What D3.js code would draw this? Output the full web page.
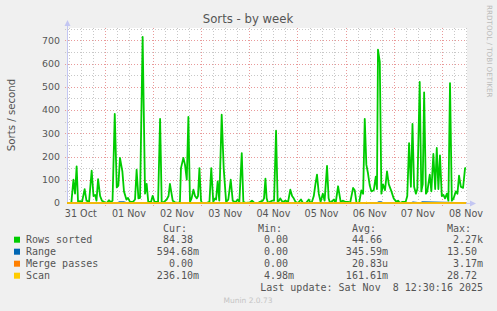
<!DOCTYPE html>
<html>
<head>
<meta charset="utf-8">
<script src="https://d3js.org/d3.v7.min.js"></script>
<style>
  body { margin: 0; background: #f0f0f0; }
  svg text { fill: #555; font-family: "DejaVu Sans", sans-serif; }
  svg text.mono { font-family: "DejaVu Sans Mono", monospace; font-size: 10px; white-space: pre; }
</style>
</head>
<body>
<svg width="497" height="311"></svg>
<script>
// hours since the left edge of the graph, and Rows sorted values
const hours = [0,0.5,2.0,2.2,3.2,4.0,4.8,5.5,6.5,7.5,8.8,9.7,11.0,12.3,13.2,14.0,14.7,15.5,16.5,17.4,18.4,19.9,20.9,21.9,22.7,23.8,24.8,25.6,26.4,27.6,28.4,29.6,30.4,31.4,32.9,33.9,34.7,35.6,36.4,37.7,38.9,39.7,40.5,41.9,42.7,43.6,45.4,46.4,47.2,48.4,49.7,50.6,51.3,52.7,53.8,55.5,56.3,56.8,58.0,58.8,59.7,60.5,61.3,62.1,63.0,63.8,64.7,65.3,66.0,66.8,67.3,69.3,71.0,71.9,72.9,73.8,74.3,75.1,75.9,77.1,78.1,79.3,80.4,81.6,82.6,83.5,84.2,85.0,85.9,87.1,87.9,89.2,91.2,92.2,93.2,95.2,96.2,97.6,98.2,98.9,99.5,100.2,101.2,102.2,103.2,104.2,105.0,105.7,106.3,107.5,108.7,110.2,111.3,112.2,113.0,113.9,115.1,116.6,117.6,119.1,120.5,121.4,122.1,123.0,123.8,124.6,125.5,126.4,127.5,128.4,129.6,130.4,131.1,133.1,133.9,135.1,136.4,137.6,138.6,140.1,141.1,142.6,143.4,144.3,145.6,146.7,147.6,148.4,149.2,150.0,150.9,151.7,152.9,153.9,154.5,155.0,155.9,156.7,157.5,158.5,159.5,160.4,161.7,162.8,164.2,165.0,166.0,167.2,168.8,169.6,170.5,171.4,172.2,173.0,173.9,174.6,175.8,176.6,177.3,178.0,178.9,179.6,180.8,181.6,182.6,183.5,184.3,185.1,185.9,186.8,187.6,188.4,189.3,190.1,190.9,191.8,192.7,193.8,194.6,195.4,196.3,197.4,198.4,198.9];
const rowsSorted = [0,0,0,5,100,40,158,5,8,5,60,10,5,139,30,35,10,103,30,10,5,0,12,3,10,383,67,75,194,136,50,15,22,5,5,15,143,20,22,715,40,82,5,5,31,5,5,362,2,5,15,30,82,10,3,0,5,150,194,165,100,370,5,20,57,30,20,30,150,10,0,0,5,150,5,20,15,93,10,380,150,5,15,100,10,5,5,15,5,215,5,0,3,10,2,0,5,10,20,105,20,0,5,10,10,311,5,10,20,3,10,5,57,30,20,5,0,15,0,0,15,0,5,30,80,122,40,5,40,10,160,20,0,15,0,72,5,10,5,5,0,65,55,0,0,54,40,362,165,129,75,50,55,113,60,660,607,40,80,55,136,80,50,20,5,10,0,5,5,30,258,70,340,70,40,60,521,50,80,476,40,50,122,50,211,60,237,60,205,30,35,20,40,10,516,10,20,50,40,118,70,65,150,150];

const rangeHours = [0,25.0,26.0,27.5,28.5,30.0,31.0,154.5,155.5,156.5,157.5,171.5,172.5,176.0,177.0,198.9];
const rangeVals  = [0.3,0.3,4,5,4,0.3,0.3,0.3,5,5,0.3,0.3,4,0.3,4,0.6];
const mergeHours = [0,198.9];
const mergeVals  = [0,0];
const scanHours = [0,148.8,149.3,149.8,198.9];
const scanVals  = [0.15,0.15,3,0.15,0.24];

const dayLabels = ["31 Oct","01 Nov","02 Nov","03 Nov","04 Nov","05 Nov","06 Nov","07 Nov","08 Nov"];
const yTicks = [0,100,200,300,400,500,600,700];

const legendNames  = ["Rows sorted","Range","Merge passes","Scan"];
const legendColors = ["#00cc00","#0066b3","#ff8000","#ffcc00"];
const curVals = ["84.38 ","594.68m","0.00 ","236.10m"];
const minVals = ["0.00 ","0.00 ","0.00 ","4.98m"];
const avgVals = ["44.66 ","345.59m","20.83u","161.61m"];
const maxVals = ["2.27k","13.50 ","3.17m","28.72 "];

const start = new Date(2025, 9, 31, 5, 8);
const end = new Date(2025, 10, 8, 12, 30);
const pLeft = 67, pRight = 467, pTop = 28, pBottom = 203;

const svg = d3.select("svg");
const x = d3.scaleTime().domain([start, end]).range([pLeft, pRight]);
const y = d3.scaleLinear().domain([0, 753]).range([pBottom, pTop]);
const toDate = h => new Date(start.getTime() + h * 3600e3);

svg.append("rect").attr("x", pLeft).attr("y", pTop).attr("width", pRight - pLeft).attr("height", pBottom - pTop).attr("fill", "#fff");

// grid
const g = svg.append("g").attr("shape-rendering", "crispEdges");
d3.timeHour.every(6).range(start, end).forEach(t => {
  const major = t.getHours() === 0;
  g.append("line").attr("x1", Math.round(x(t)) + 0.5).attr("x2", Math.round(x(t)) + 0.5)
    .attr("y1", pTop).attr("y2", pBottom + (major ? 3 : 2))
    .attr("stroke", major ? "#e99a9a" : "#c8c8c8").attr("stroke-dasharray", "1,2");
});
d3.range(50, 800, 50).forEach(v => {
  if (v > 753) return;
  const major = v % 100 === 0;
  g.append("line").attr("x1", pLeft - 2).attr("x2", pRight)
    .attr("y1", Math.round(y(v)) + 0.5).attr("y2", Math.round(y(v)) + 0.5)
    .attr("stroke", major ? "#e99a9a" : "#c8c8c8").attr("stroke-dasharray", "1,2");
});

// axes
const axisCol = "#c3c6f2";
svg.append("line").attr("x1", pLeft + 0.5).attr("x2", pLeft + 0.5).attr("y1", pBottom).attr("y2", 24).attr("stroke", axisCol);
svg.append("path").attr("d", `M${pLeft - 2.5},26 L${pLeft + 3.5},26 L${pLeft + 0.5},20 Z`).attr("fill", axisCol);
svg.append("line").attr("x1", pLeft).attr("x2", pRight + 5).attr("y1", pBottom + 0.5).attr("y2", pBottom + 0.5).attr("stroke", axisCol);
svg.append("path").attr("d", `M${pRight + 3},${pBottom - 2.5} L${pRight + 3},${pBottom + 3.5} L${pRight + 9},${pBottom + 0.5} Z`).attr("fill", axisCol);

yTicks.forEach(v => {
  svg.append("text").attr("x", 60).attr("y", y(v) + 3.4).attr("text-anchor", "end")
    .attr("font-size", 9.4).text(v);
});
d3.timeDay.range(d3.timeDay.floor(start), end).forEach((d, i) => {
  svg.append("text").attr("x", x(d3.timeHour.offset(d, 12))).attr("y", 216.5)
    .attr("text-anchor", "middle").attr("font-size", 9.6).text(dayLabels[i]);
});

// series
const line = d3.line().x(d => x(toDate(d[0]))).y(d => y(d[1]));
const series = [
  [hours, rowsSorted],
  [rangeHours, rangeVals],
  [mergeHours, mergeVals],
  [scanHours, scanVals]
];
series.forEach((s, i) => {
  svg.append("path").datum(s[0].map((h, j) => [h, s[1][j]]))
    .attr("d", line).attr("fill", "none").attr("stroke", legendColors[i])
    .attr("stroke-width", i === 0 ? 1.8 : 1.4).attr("stroke-linejoin", "round");
});

// title and labels
svg.append("text").attr("x", 248).attr("y", 23).attr("text-anchor", "middle").attr("font-size", 11.7).text("Sorts - by week");
svg.append("text").attr("transform", "translate(15,115) rotate(-90)").attr("text-anchor", "middle")
  .attr("font-size", 10.2).text("Sorts / second");
svg.append("text").attr("transform", "translate(487,5) rotate(90)").attr("font-size", 7.2)
  .style("fill", "#bbb").text("RRDTOOL / TOBI OETIKER");

// legend
const cw = 6.02;
const colEnds = [199, 294, 388, 483];
["Cur:", "Min:", "Avg:", "Max:"].forEach((h, i) => {
  svg.append("text").attr("class", "mono").attr("x", colEnds[i] - 6 * cw).attr("y", 231.5).text(h);
});
legendNames.forEach((n, i) => {
  const cy = 239.7 + i * 12;
  svg.append("rect").attr("x", 14).attr("y", cy - 3).attr("width", 6).attr("height", 6).attr("fill", legendColors[i]);
  svg.append("text").attr("class", "mono").attr("x", 26).attr("y", cy + 3.5).text(n);
  [curVals, minVals, avgVals, maxVals].forEach((col, k) => {
    svg.append("text").attr("class", "mono").attr("x", colEnds[k] - col[i].length * cw).attr("y", cy + 3.5).text(col[i]);
  });
});
const upd = "Last update: Sat Nov  8 12:30:16 2025";
svg.append("text").attr("class", "mono").attr("x", 483 - upd.length * cw).attr("y", 291.2).text(upd);
svg.append("text").attr("x", 248).attr("y", 303).attr("text-anchor", "middle").attr("font-size", 7.5)
  .style("fill", "#c4c4c4").text("Munin 2.0.73");
</script>
</body>
</html>
